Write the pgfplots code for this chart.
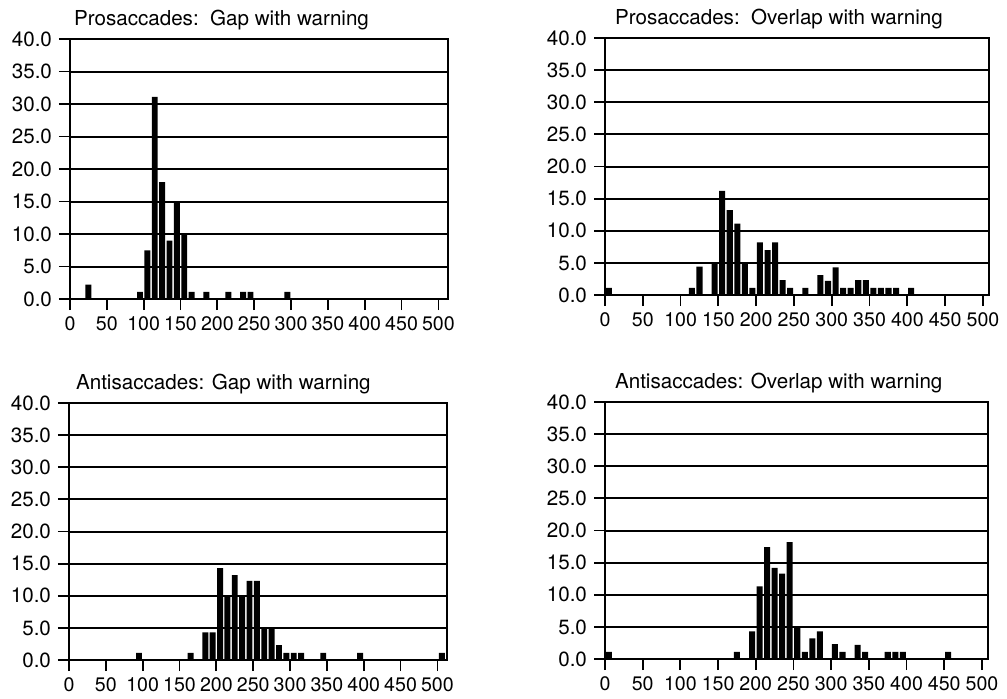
\documentclass[border=0pt]{standalone}
\usepackage{fontspec}
\setmainfont{TeX Gyre Heros}
\usepackage{pgfplots}
\pgfplotsset{compat=1.18}

\newcommand{\fs}{\fontsize{10.3}{12.4}\selectfont}
\newcommand{\fx}{\fontsize{9.8}{11.8}\selectfont}

\pgfplotsset{
  hist/.style={
    scale only axis,
    xmin=0, ymin=0, ymax=40,
    xtick={0,50,...,500}, ytick={0,5,...,40},
    ymajorgrids, grid style={black, line width=1pt},
    axis line style={line width=0.9pt},
    tick style={black, line width=0.9pt},
    tick align=outside, major tick length=5.5pt,
    xtick pos=bottom, ytick pos=left,
    yticklabel style={font=\fs, /pgf/number format/.cd, fixed, fixed zerofill, precision=1},
    xticklabel style={font=\fx},
    /pgf/number format/assume math mode=true,
    title style={font=\fs, at={(0,1)}, anchor=base west, yshift=1pt},
    ybar, bar width=8,
  },
  bars/.style={fill=black, draw=none},
}

\begin{document}
\begin{tikzpicture}
\useasboundingbox (0,0) rectangle (503.5pt,-349pt);

% top left
\begin{axis}[hist, at={(35pt,-149.5pt)}, anchor=south west,
  width=189pt, height=130pt, xmax=513,
  title style={xshift=-1.5pt},
  title={Prosaccades:\ \ Gap with warning}]
\addplot[bars] coordinates {
  (25,2.2)(95,1.1)(105,7.5)(115,31.1)(125,18)(135,9)(145,14.8)(155,10)
  (165,1.1)(185,1.1)(215,1.1)(235,1.1)(245,1.1)(295,1.1)};
\end{axis}

% top right
\begin{axis}[hist, at={(302.5pt,-147.5pt)}, anchor=south west,
  width=192pt, height=128.5pt, xmax=508,
  title style={xshift=1.5pt},
  title={Prosaccades:\ \ Overlap with warning}]
\addplot[bars] coordinates {
  (5,1.1)(115,1.1)(125,4.4)(145,5)(155,16.2)(165,13.2)(175,11.1)(185,4.9)
  (195,1.1)(205,8.2)(215,7)(225,8.2)(235,2.3)(245,1.1)(265,1.1)(285,3.1)
  (295,2.2)(305,4.3)(315,1.1)(325,1.1)(335,2.3)(345,2.3)(355,1.1)(365,1.1)
  (375,1.1)(385,1.1)(405,1.1)};
\end{axis}

% bottom left
\begin{axis}[hist, at={(34.5pt,-330pt)}, anchor=south west,
  width=189pt, height=128.5pt, xmax=513,
  title style={xshift=0pt},
  title={Antisaccades: Gap with warning}]
\addplot[bars] coordinates {
  (95,1.1)(165,1.1)(185,4.3)(195,4.3)(205,14.3)(215,10)(225,13.2)(235,10)
  (245,12.3)(255,12.3)(265,4.9)(275,4.9)(285,2.3)(295,1.1)(305,1.1)(315,1.1)
  (345,1.1)(395,1.1)(506,1.1)};
\end{axis}

% bottom right
\begin{axis}[hist, at={(302.5pt,-329.5pt)}, anchor=south west,
  width=191.5pt, height=128.5pt, xmax=508,
  title style={xshift=1.5pt},
  title={Antisaccades: Overlap with warning}]
\addplot[bars] coordinates {
  (5,1.1)(175,1.1)(195,4.3)(205,11.3)(215,17.4)(225,14.2)(235,13.3)(245,18.2)
  (255,5)(265,1.1)(275,3.2)(285,4.3)(305,2.3)(315,1.1)(335,2.2)(345,1.1)
  (375,1.1)(385,1.1)(395,1.1)(455,1.1)};
\end{axis}
\end{tikzpicture}
\end{document}
